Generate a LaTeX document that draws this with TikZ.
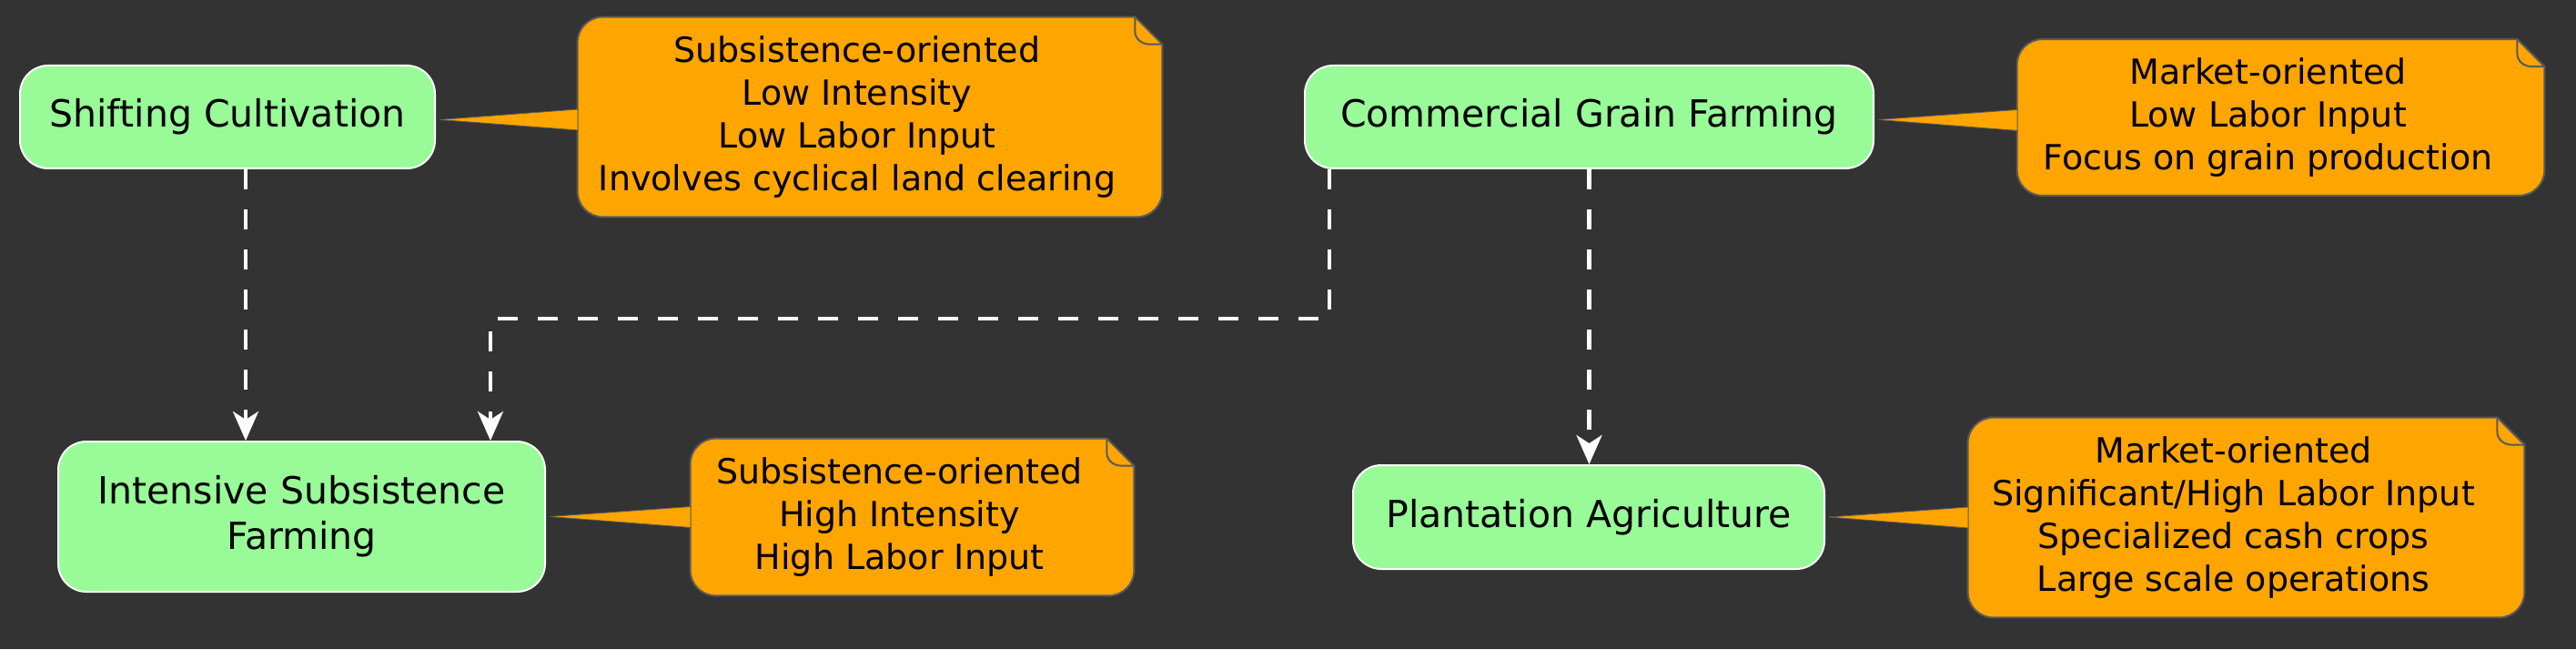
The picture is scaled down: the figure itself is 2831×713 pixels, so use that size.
\documentclass[tikz,border=0pt]{standalone}
\usepackage{fontspec}
\setmainfont{DejaVu Sans}
\usetikzlibrary{arrows.meta,calc}
\definecolor{bgc}{HTML}{333333}
\definecolor{pgreen}{HTML}{98FB98}
\definecolor{norange}{HTML}{FFA500}
\definecolor{nborder}{HTML}{5A5A5A}
\newcommand{\drawnote}[1]{%
  \path[fill=norange, draw=nborder, line width=1pt]
    (#1.west) -- ([yshift=-14pt]#1.north west) arc[start angle=180,end angle=90,radius=14pt]
    -- ([xshift=-15pt]#1.north east) -- ([yshift=-15pt]#1.north east)
    -- ([yshift=14pt]#1.south east) arc[start angle=0,end angle=-90,radius=14pt]
    -- ([xshift=14pt]#1.south west) arc[start angle=270,end angle=180,radius=14pt] -- cycle;
  \draw[nborder, line width=1pt] ([xshift=-15pt]#1.north east)
    -- ([xshift=-15pt,yshift=-8pt]#1.north east)
    to[out=-90,in=180] ([xshift=-7pt,yshift=-15pt]#1.north east)
    -- ([yshift=-15pt]#1.north east);
}
\newcommand{\drawpointer}[4]{% node, note, tip yshift, base yshift
  \fill[norange] ([xshift=2pt,yshift=#3]#1.east) -- ([yshift=#4+5.75pt]#2.west) -- ([yshift=#4-5.75pt]#2.west) -- cycle;
  \draw[nborder, line width=0.4pt] ([xshift=2pt,yshift=#3]#1.east) -- ([yshift=#4+5.75pt,xshift=0.5pt]#2.west);
  \draw[nborder, line width=0.4pt] ([xshift=2pt,yshift=#3]#1.east) -- ([yshift=#4-5.75pt,xshift=0.5pt]#2.west);
}
\tikzset{
  stage/.style={draw=white, line width=1pt, fill=pgreen, rounded corners=15.5pt,
    inner sep=0pt, align=center, text=black, font=\fontsize{20.5}{25}\selectfont},
  notebox/.style={draw=none, inner sep=0pt},
  notetext/.style={align=center, text=black, inner sep=0pt, font=\fontsize{19}{23.5}\selectfont},
  flow/.style={draw=white, line width=2.2pt, dash pattern=on 11pt off 11pt,
    -{Stealth[length=16pt,width=14pt,inset=4.5pt]}},
}
\begin{document}
\begin{tikzpicture}[x=0.5pt,y=0.5pt]
  \fill[bgc] (0,0) rectangle (2831,713);
  \useasboundingbox (0,0) rectangle (2831,713);

  % stage nodes
  \node[stage, minimum width=228pt, minimum height=56.5pt] (S) at (250,584.5) {Shifting Cultivation};
  \node[stage, minimum width=267.5pt, minimum height=82.5pt] (I) at (331.5,145.5) {Intensive Subsistence\\Farming};
  \node[stage, minimum width=312.5pt, minimum height=56.5pt] (C) at (1746.5,584.5) {Commercial Grain Farming};
  \node[stage, minimum width=259pt, minimum height=57pt] (P) at (1746,145) {Plantation Agriculture};

  % note frames
  \node[notebox, minimum width=321pt, minimum height=109.5pt] (n1) at (956,584.5) {};
  \node[notebox, minimum width=243.5pt, minimum height=86pt] (n2) at (1002.5,145) {};
  \node[notebox, minimum width=289.5pt, minimum height=85.5pt] (n3) at (2506.5,584) {};
  \node[notebox, minimum width=305.5pt, minimum height=109.5pt] (n4) at (2468.5,144.5) {};

  \drawnote{n1}
  \drawnote{n2}
  \drawnote{n3}
  \drawnote{n4}

  \drawpointer{S}{n1}{-1.5pt}{-1.5pt}
  \drawpointer{I}{n2}{0pt}{0pt}
  \drawpointer{C}{n3}{-1.5pt}{-1.5pt}
  \drawpointer{P}{n4}{0pt}{0pt}

  % note texts
  \node[notetext] (t1) at ([xshift=-7pt]n1.center) {Subsistence-oriented\\Low Intensity\\Low Labor Input\\Involves cyclical land clearing};
  \node[notetext] (t2) at ([xshift=-7pt]n2.center) {Subsistence-oriented\\High Intensity\\High Labor Input};
  \node[notetext] (t3) at ([xshift=-7pt]n3.center) {Market-oriented\\Low Labor Input\\Focus on grain production};
  \node[notetext] (t4) at ([xshift=-7pt]n4.center) {Market-oriented\\Significant/High Labor Input\\Specialized cash crops\\Large scale operations};

  % connectors
  \coordinate (bend) at (1000,363);
  \draw[flow] ([xshift=10pt]S.south) -- ([xshift=-30.75pt]I.north);
  \draw[flow] ([xshift=-142.75pt]C.south) |- (bend) -| ([xshift=103.75pt]I.north);
  \draw[flow] (C.south) -- (C.south |- P.north);
\end{tikzpicture}
\end{document}
